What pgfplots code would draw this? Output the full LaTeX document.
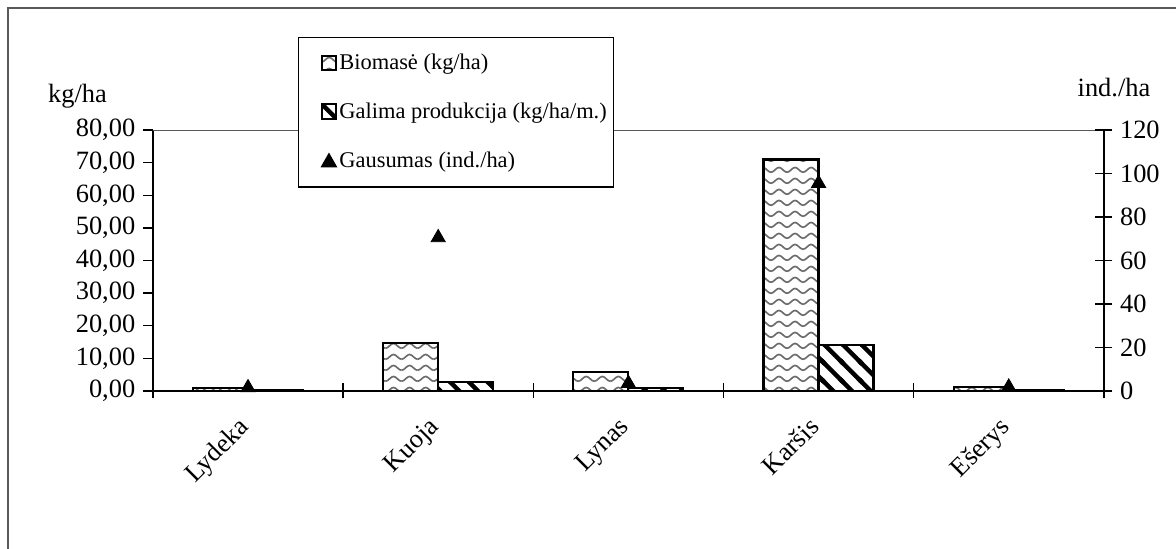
\documentclass[border=0pt]{standalone}
\usepackage{fontspec}
\setmainfont{Liberation Serif}
\usepackage{pgfplots}
\pgfplotsset{compat=1.18}
\usetikzlibrary{patterns}

\pgfdeclarepatternformonly{waves}{\pgfpoint{-0.5pt}{-0.5pt}}{\pgfpoint{7.8pt}{5.5pt}}{\pgfpoint{7.3pt}{5pt}}{%
 \pgfsetlinewidth{0.75pt}%
 \pgfpathmoveto{\pgfpoint{0pt}{1.2pt}}%
 \pgfpathcurveto{\pgfpoint{1.3pt}{1.2pt}}{\pgfpoint{2.4pt}{3.4pt}}{\pgfpoint{3.65pt}{3.4pt}}%
 \pgfpathcurveto{\pgfpoint{4.9pt}{3.4pt}}{\pgfpoint{6pt}{1.2pt}}{\pgfpoint{7.3pt}{1.2pt}}%
 \pgfusepath{stroke}}

\pgfdeclarepatternformonly{thickstripes}{\pgfpoint{-1pt}{-1pt}}{\pgfpoint{9.5pt}{9.5pt}}{\pgfpoint{8.5pt}{8.5pt}}{%
 \pgfsetlinewidth{2pt}%
 \pgfpathmoveto{\pgfpoint{-1pt}{9.5pt}}\pgfpathlineto{\pgfpoint{9.5pt}{-1pt}}%
 \pgfpathmoveto{\pgfpoint{-1pt}{1pt}}\pgfpathlineto{\pgfpoint{1pt}{-1pt}}%
 \pgfpathmoveto{\pgfpoint{7.5pt}{9.5pt}}\pgfpathlineto{\pgfpoint{9.5pt}{7.5pt}}%
 \pgfusepath{stroke}}

\pgfplotsset{sqlegend/.style={legend image code/.code={\path (0pt,0pt); \draw[##1, line width=0.9pt] (8pt,-3pt) rectangle (14.6pt,3.6pt);}}}

\begin{document}
\begin{tikzpicture}
\useasboundingbox (0,0) rectangle (534.5pt,249.5pt);
\draw[gray!70!black, line width=0.6pt] (3.6pt,-2pt) -- (3.6pt,245.9pt) -- (536pt,245.9pt);

\begin{axis}[
  at={(69.5pt,71.8pt)}, anchor=south west,
  width=432.2pt, height=118.6pt, scale only axis,
  xmin=-0.5, xmax=4.5, ymin=0, ymax=80,
  axis x line*=bottom, axis y line*=left,
  axis line style={black, line width=0.6pt},
  xtick={0,...,4},
  xticklabels={Lydeka,Kuoja,Lynas,Karšis,Ešerys},
  major x tick style={draw=none},
  minor xtick={-0.5,0.5,...,4.5},
  minor x tick style={yshift=3.4pt, black, line width=0.6pt},
  tick align=outside,
  major tick length=4.5pt,
  minor tick length=6.8pt,
  major y tick style={black, line width=0.6pt},
  ytick={0,10,...,80},
  /pgf/number format/assume math mode=true,
  yticklabel style={/pgf/number format/fixed, /pgf/number format/fixed zerofill,
    /pgf/number format/precision=2, /pgf/number format/use comma},
  tick label style={font=\fontsize{12}{14}\selectfont},
  xticklabel style={xshift=-5pt, yshift=-6.4pt, rotate=45, anchor=north east, inner sep=0pt},
  legend cell align=left,
  legend style={at={(0.1525,1.356)}, anchor=north west, draw=black, fill=white,
    font=\fontsize{10.2}{12}\selectfont, row sep=11.5pt, inner xsep=2pt, inner ysep=6.5pt,
    nodes={inner sep=1pt}, line width=0.6pt},
]
\addplot[ybar, bar width=25pt, bar shift=-12.5pt, draw=black, line width=1pt,
  pattern=waves, pattern color=gray!85!black, sqlegend]
  coordinates {(0,0.8) (1,14.7) (2,5.7) (3,71) (4,1.3)};
\addplot[ybar, bar width=25pt, bar shift=12.5pt, draw=black, line width=1pt,
  pattern=thickstripes, pattern color=black, sqlegend]
  coordinates {(0,0.25) (1,2.85) (2,1.0) (3,14.2) (4,0.35)};
\addlegendimage{legend image code/.code={\path (0pt,0pt); \fill[black] (8pt,-2.6pt) -- (14.6pt,-2.6pt) -- (11.3pt,3.2pt) -- cycle;}}
\legend{Biomasė (kg/ha), Galima produkcija (kg/ha/m.), Gausumas (ind./ha)}
\draw[gray!70!black, line width=0.6pt] (rel axis cs:0,1) -- (rel axis cs:1,1);
\end{axis}

\begin{axis}[
  at={(69.5pt,71.8pt)}, anchor=south west,
  width=432.2pt, height=118.6pt, scale only axis,
  xmin=-0.5, xmax=4.5, ymin=0, ymax=120,
  axis x line=none, axis y line*=right,
  axis line style={black, line width=0.6pt},
  ytick={0,20,...,120},
  tick align=center,
  major tick length=7.7pt,
  major y tick style={black, line width=0.6pt},
  /pgf/number format/assume math mode=true,
  tick label style={font=\fontsize{12}{14}\selectfont},
]
\addplot[only marks, mark=triangle*, mark size=3.7pt, black]
  coordinates {(0,1.5) (1,70.5) (2,3.5) (3,95.5) (4,1.8)};
\end{axis}

\node[anchor=base, font=\fontsize{12}{14}\selectfont] at (35.2pt,202.7pt) {kg/ha};
\node[anchor=base, font=\fontsize{12}{14}\selectfont] at (506.3pt,205.7pt) {ind./ha};
\end{tikzpicture}
\end{document}
